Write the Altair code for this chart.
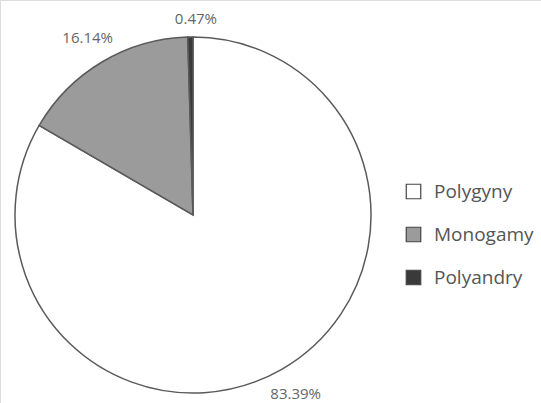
import altair as alt
import pandas as pd

# Mating systems and their share (%)
systems = ["Polygyny", "Monogamy", "Polyandry"]
shares = [83.39, 16.14, 0.47]
labels = ["83.39%", "16.14%", "0.47%"]
fills = ["#ffffff", "#9b9b9b", "#3a3a3a"]

df = pd.DataFrame({
    "system": systems,
    "share": shares,
    "label": labels,
    "order": list(range(len(systems))),
})

CX, CY, R = 193, 215, 178
FONT = "Open Sans"

base = alt.Chart(df).encode(
    theta=alt.Theta("share:Q", stack=True),
    order=alt.Order("order:Q"),
)

pie = base.mark_arc(
    radius=R, stroke="#5a5a5a", strokeWidth=1.5
).encode(
    x=alt.value(CX),
    y=alt.value(CY),
    color=alt.Color(
        "system:N",
        scale=alt.Scale(domain=systems, range=fills),
        legend=alt.Legend(
            title=None,
            orient="none",
            legendX=404,
            legendY=182,
            symbolType="square",
            symbolSize=210,
            symbolStrokeColor="#444444",
            symbolStrokeWidth=1.2,
            labelFont=FONT,
            labelFontSize=19,
            labelColor="#555555",
            labelOffset=11,
            rowPadding=22,
        ),
    ),
)

text_main = base.transform_filter(
    alt.datum.system != "Polyandry"
).mark_text(
    radius=206, font=FONT, fontSize=15, color="#666666"
).encode(
    x=alt.value(CX), y=alt.value(CY), text="label:N"
)

text_small = base.transform_filter(
    alt.datum.system == "Polyandry"
).mark_text(
    radius=196, font=FONT, fontSize=15, color="#666666"
).encode(
    x=alt.value(CX), y=alt.value(CY), text="label:N"
)

chart = (
    alt.layer(pie, text_main, text_small)
    .properties(width=541, height=403, padding=0,
                autosize=alt.AutoSizeParams(type="none"))
    .configure_view(stroke=None)
    .configure(background="#ffffff")
)

chart.save("out.html", embed_options={"renderer": "svg", "actions": False})
